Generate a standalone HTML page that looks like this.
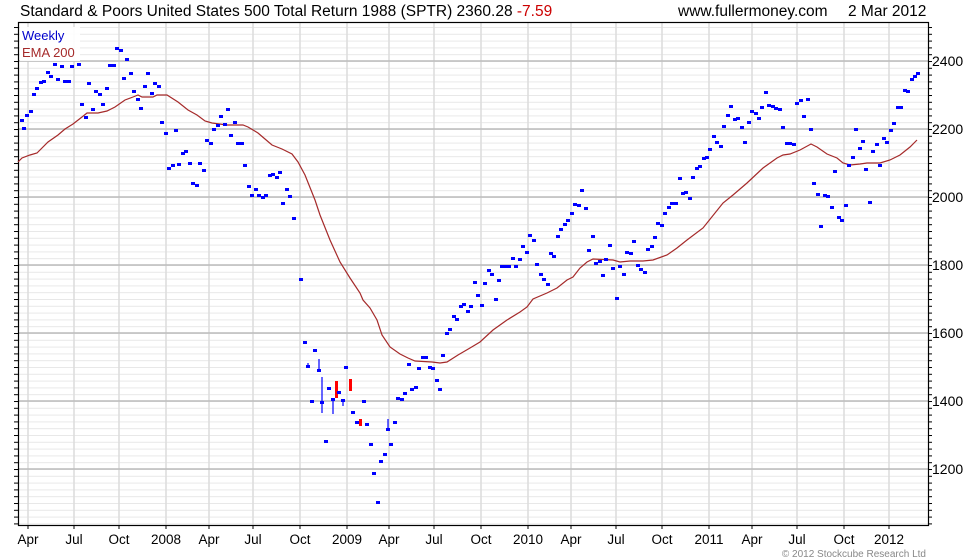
<!DOCTYPE html>
<html><head><meta charset="utf-8"><style>
html,body{margin:0;padding:0;background:#fff;}
svg{display:block;font-family:"Liberation Sans",sans-serif;}
</style></head><body>
<svg width="980" height="560" viewBox="0 0 980 560" xmlns="http://www.w3.org/2000/svg">
<defs>
<pattern id="mg" x="0" y="61" width="980" height="6.8" patternUnits="userSpaceOnUse"><line x1="0" y1="0.5" x2="980" y2="0.5" stroke="#e8e8e8" stroke-width="1"/></pattern>
<pattern id="tk" x="0" y="61" width="980" height="6.8" patternUnits="userSpaceOnUse"><line x1="14" y1="0.5" x2="18" y2="0.5" stroke="#000"/><line x1="928" y1="0.5" x2="932" y2="0.5" stroke="#000"/></pattern>
</defs>
<rect width="980" height="560" fill="#fff"/>
<rect x="18" y="22" width="910" height="503" fill="url(#mg)"/>
<rect x="0" y="22" width="980" height="503" fill="url(#tk)"/>
<g stroke="#dcdcdc" stroke-width="1.5">
<line x1="28" y1="22" x2="28" y2="525"/><line x1="74" y1="22" x2="74" y2="525"/><line x1="119" y1="22" x2="119" y2="525"/><line x1="166" y1="22" x2="166" y2="525"/><line x1="209" y1="22" x2="209" y2="525"/><line x1="253" y1="22" x2="253" y2="525"/><line x1="300" y1="22" x2="300" y2="525"/><line x1="347" y1="22" x2="347" y2="525"/><line x1="389" y1="22" x2="389" y2="525"/><line x1="434" y1="22" x2="434" y2="525"/><line x1="481" y1="22" x2="481" y2="525"/><line x1="528" y1="22" x2="528" y2="525"/><line x1="571" y1="22" x2="571" y2="525"/><line x1="616" y1="22" x2="616" y2="525"/><line x1="662" y1="22" x2="662" y2="525"/><line x1="709" y1="22" x2="709" y2="525"/><line x1="752" y1="22" x2="752" y2="525"/><line x1="797" y1="22" x2="797" y2="525"/><line x1="844" y1="22" x2="844" y2="525"/><line x1="889" y1="22" x2="889" y2="525"/>
</g>
<g stroke="#bcbcbc" stroke-width="1.5">
<line x1="18" y1="61" x2="928" y2="61"/><line x1="18" y1="129" x2="928" y2="129"/><line x1="18" y1="197" x2="928" y2="197"/><line x1="18" y1="265" x2="928" y2="265"/><line x1="18" y1="333" x2="928" y2="333"/><line x1="18" y1="401" x2="928" y2="401"/><line x1="18" y1="469" x2="928" y2="469"/>
</g>
<g stroke="#000" stroke-width="1">
<line x1="28" y1="525" x2="28" y2="529"/><line x1="74" y1="525" x2="74" y2="529"/><line x1="119" y1="525" x2="119" y2="529"/><line x1="166" y1="525" x2="166" y2="529"/><line x1="209" y1="525" x2="209" y2="529"/><line x1="253" y1="525" x2="253" y2="529"/><line x1="300" y1="525" x2="300" y2="529"/><line x1="347" y1="525" x2="347" y2="529"/><line x1="389" y1="525" x2="389" y2="529"/><line x1="434" y1="525" x2="434" y2="529"/><line x1="481" y1="525" x2="481" y2="529"/><line x1="528" y1="525" x2="528" y2="529"/><line x1="571" y1="525" x2="571" y2="529"/><line x1="616" y1="525" x2="616" y2="529"/><line x1="662" y1="525" x2="662" y2="529"/><line x1="709" y1="525" x2="709" y2="529"/><line x1="752" y1="525" x2="752" y2="529"/><line x1="797" y1="525" x2="797" y2="529"/><line x1="844" y1="525" x2="844" y2="529"/><line x1="889" y1="525" x2="889" y2="529"/>
</g>
<rect x="18.5" y="22.5" width="910" height="503" fill="none" stroke="#000" stroke-width="1.2"/>

<polyline fill="none" stroke="#a52a2a" stroke-width="1.2" points="18,162 22,158 30,155 37,153 48,142 58,135 65,129 73,124 82,117 87,113 98,113 107,111 115,107 125,100 133,97 138,95 142,97 153,97 157,95 167,95 178,102 188,110 197,115 205,121 212,123 227,125 243,125 248,127 258,133 265,139 272,145 282,149 292,154 298,162 305,175 315,200 320,215 330,240 340,262 350,278 360,293 363,300 370,308 377,320 382,335 390,347 400,354 408,358 415,361 432,362 440,363 447,362 458,355 470,348 480,342 493,330 507,320 520,312 527,307 533,299 547,293 557,288 567,280 573,277 580,268 587,262 593,259 613,260 620,262 630,261 643,261 653,260 667,255 677,248 687,240 703,228 723,203 733,195 747,183 763,168 777,158 783,155 790,154 800,150 811,144 817,147 827,154 837,158 843,163 850,165 860,164 867,163 880,163 890,160 900,155 910,147 917,140"/>

<g stroke="#0000ff" stroke-width="1.2">
<line x1="308" y1="363" x2="308" y2="366"/><line x1="319" y1="359" x2="319" y2="370"/><line x1="322" y1="377" x2="322" y2="413"/><line x1="333" y1="399" x2="333" y2="414"/><line x1="343" y1="400" x2="343" y2="406"/><line x1="388" y1="419" x2="388" y2="429"/>
</g>
<g fill="#ff0000"><rect x="335" y="381" width="3" height="17"/><rect x="349" y="379" width="3" height="12"/><rect x="359" y="419" width="3" height="7"/></g>

<g fill="#0000ff">
<rect x="20" y="119" width="4" height="3"/><rect x="22" y="127" width="4" height="3"/><rect x="25" y="114" width="4" height="3"/><rect x="29" y="110" width="4" height="3"/><rect x="32" y="93" width="4" height="3"/><rect x="35" y="87" width="4" height="3"/><rect x="39" y="81" width="4" height="3"/><rect x="42" y="80" width="4" height="3"/><rect x="46" y="71" width="4" height="3"/><rect x="49" y="75" width="4" height="3"/><rect x="53" y="63" width="4" height="3"/><rect x="56" y="78" width="4" height="3"/><rect x="60" y="65" width="4" height="3"/><rect x="63" y="80" width="4" height="3"/><rect x="67" y="80" width="4" height="3"/><rect x="70" y="65" width="4" height="3"/><rect x="77" y="63" width="4" height="3"/><rect x="80" y="103" width="4" height="3"/><rect x="84" y="116" width="4" height="3"/><rect x="87" y="82" width="4" height="3"/><rect x="91" y="108" width="4" height="3"/><rect x="94" y="90" width="4" height="3"/><rect x="98" y="93" width="4" height="3"/><rect x="101" y="103" width="4" height="3"/><rect x="105" y="87" width="4" height="3"/><rect x="108" y="64" width="4" height="3"/><rect x="112" y="64" width="4" height="3"/><rect x="115" y="47" width="4" height="3"/><rect x="119" y="49" width="4" height="3"/><rect x="122" y="77" width="4" height="3"/><rect x="125" y="58" width="4" height="3"/><rect x="129" y="72" width="4" height="3"/><rect x="132" y="90" width="4" height="3"/><rect x="136" y="98" width="4" height="3"/><rect x="139" y="107" width="4" height="3"/><rect x="143" y="85" width="4" height="3"/><rect x="146" y="72" width="4" height="3"/><rect x="150" y="92" width="4" height="3"/><rect x="153" y="82" width="4" height="3"/><rect x="157" y="85" width="4" height="3"/><rect x="160" y="121" width="4" height="3"/><rect x="164" y="132" width="4" height="3"/><rect x="167" y="167" width="4" height="3"/><rect x="171" y="164" width="4" height="3"/><rect x="174" y="129" width="4" height="3"/><rect x="177" y="163" width="4" height="3"/><rect x="181" y="152" width="4" height="3"/><rect x="184" y="150" width="4" height="3"/><rect x="188" y="162" width="4" height="3"/><rect x="191" y="182" width="4" height="3"/><rect x="195" y="184" width="4" height="3"/><rect x="198" y="162" width="4" height="3"/><rect x="202" y="169" width="4" height="3"/><rect x="205" y="139" width="4" height="3"/><rect x="209" y="142" width="4" height="3"/><rect x="212" y="128" width="4" height="3"/><rect x="216" y="124" width="4" height="3"/><rect x="219" y="115" width="4" height="3"/><rect x="223" y="123" width="4" height="3"/><rect x="226" y="108" width="4" height="3"/><rect x="229" y="134" width="4" height="3"/><rect x="233" y="121" width="4" height="3"/><rect x="236" y="142" width="4" height="3"/><rect x="240" y="142" width="4" height="3"/><rect x="243" y="164" width="4" height="3"/><rect x="247" y="185" width="4" height="3"/><rect x="250" y="194" width="4" height="3"/><rect x="254" y="188" width="4" height="3"/><rect x="257" y="194" width="4" height="3"/><rect x="261" y="196" width="4" height="3"/><rect x="264" y="194" width="4" height="3"/><rect x="268" y="174" width="4" height="3"/><rect x="271" y="173" width="4" height="3"/><rect x="275" y="176" width="4" height="3"/><rect x="278" y="171" width="4" height="3"/><rect x="281" y="202" width="4" height="3"/><rect x="285" y="188" width="4" height="3"/><rect x="288" y="195" width="4" height="3"/><rect x="292" y="217" width="4" height="3"/><rect x="299" y="278" width="4" height="3"/><rect x="303" y="341" width="4" height="3"/><rect x="306" y="365" width="4" height="3"/><rect x="310" y="400" width="4" height="3"/><rect x="313" y="349" width="4" height="3"/><rect x="317" y="369" width="4" height="3"/><rect x="320" y="401" width="4" height="3"/><rect x="324" y="440" width="4" height="3"/><rect x="327" y="387" width="4" height="3"/><rect x="331" y="398" width="4" height="3"/><rect x="337" y="391" width="4" height="3"/><rect x="341" y="399" width="4" height="3"/><rect x="344" y="366" width="4" height="3"/><rect x="351" y="411" width="4" height="3"/><rect x="355" y="421" width="4" height="3"/><rect x="362" y="400" width="4" height="3"/><rect x="365" y="423" width="4" height="3"/><rect x="369" y="443" width="4" height="3"/><rect x="372" y="472" width="4" height="3"/><rect x="376" y="501" width="4" height="3"/><rect x="379" y="460" width="4" height="3"/><rect x="383" y="453" width="4" height="3"/><rect x="386" y="428" width="4" height="3"/><rect x="389" y="443" width="4" height="3"/><rect x="393" y="421" width="4" height="3"/><rect x="396" y="397" width="4" height="3"/><rect x="400" y="398" width="4" height="3"/><rect x="403" y="392" width="4" height="3"/><rect x="407" y="363" width="4" height="3"/><rect x="410" y="388" width="4" height="3"/><rect x="414" y="386" width="4" height="3"/><rect x="417" y="367" width="4" height="3"/><rect x="421" y="356" width="4" height="3"/><rect x="424" y="356" width="4" height="3"/><rect x="428" y="366" width="4" height="3"/><rect x="431" y="367" width="4" height="3"/><rect x="435" y="379" width="4" height="3"/><rect x="438" y="388" width="4" height="3"/><rect x="441" y="354" width="4" height="3"/><rect x="445" y="332" width="4" height="3"/><rect x="448" y="328" width="4" height="3"/><rect x="452" y="315" width="4" height="3"/><rect x="455" y="318" width="4" height="3"/><rect x="459" y="305" width="4" height="3"/><rect x="462" y="303" width="4" height="3"/><rect x="466" y="310" width="4" height="3"/><rect x="469" y="305" width="4" height="3"/><rect x="473" y="281" width="4" height="3"/><rect x="476" y="294" width="4" height="3"/><rect x="480" y="304" width="4" height="3"/><rect x="483" y="282" width="4" height="3"/><rect x="487" y="269" width="4" height="3"/><rect x="490" y="273" width="4" height="3"/><rect x="494" y="298" width="4" height="3"/><rect x="497" y="279" width="4" height="3"/><rect x="500" y="265" width="4" height="3"/><rect x="504" y="265" width="4" height="3"/><rect x="507" y="265" width="4" height="3"/><rect x="511" y="257" width="4" height="3"/><rect x="514" y="265" width="4" height="3"/><rect x="518" y="258" width="4" height="3"/><rect x="521" y="245" width="4" height="3"/><rect x="525" y="251" width="4" height="3"/><rect x="528" y="234" width="4" height="3"/><rect x="532" y="239" width="4" height="3"/><rect x="535" y="263" width="4" height="3"/><rect x="539" y="273" width="4" height="3"/><rect x="542" y="278" width="4" height="3"/><rect x="546" y="283" width="4" height="3"/><rect x="549" y="252" width="4" height="3"/><rect x="552" y="255" width="4" height="3"/><rect x="556" y="235" width="4" height="3"/><rect x="559" y="228" width="4" height="3"/><rect x="563" y="223" width="4" height="3"/><rect x="566" y="219" width="4" height="3"/><rect x="570" y="212" width="4" height="3"/><rect x="573" y="203" width="4" height="3"/><rect x="577" y="204" width="4" height="3"/><rect x="580" y="189" width="4" height="3"/><rect x="584" y="207" width="4" height="3"/><rect x="587" y="249" width="4" height="3"/><rect x="591" y="235" width="4" height="3"/><rect x="594" y="262" width="4" height="3"/><rect x="598" y="260" width="4" height="3"/><rect x="601" y="274" width="4" height="3"/><rect x="604" y="258" width="4" height="3"/><rect x="608" y="244" width="4" height="3"/><rect x="611" y="267" width="4" height="3"/><rect x="615" y="297" width="4" height="3"/><rect x="618" y="265" width="4" height="3"/><rect x="622" y="273" width="4" height="3"/><rect x="625" y="251" width="4" height="3"/><rect x="629" y="252" width="4" height="3"/><rect x="632" y="240" width="4" height="3"/><rect x="636" y="264" width="4" height="3"/><rect x="639" y="268" width="4" height="3"/><rect x="643" y="271" width="4" height="3"/><rect x="646" y="248" width="4" height="3"/><rect x="650" y="245" width="4" height="3"/><rect x="653" y="236" width="4" height="3"/><rect x="656" y="222" width="4" height="3"/><rect x="660" y="224" width="4" height="3"/><rect x="663" y="212" width="4" height="3"/><rect x="667" y="206" width="4" height="3"/><rect x="670" y="202" width="4" height="3"/><rect x="674" y="202" width="4" height="3"/><rect x="678" y="177" width="4" height="3"/><rect x="681" y="192" width="4" height="3"/><rect x="684" y="191" width="4" height="3"/><rect x="688" y="197" width="4" height="3"/><rect x="691" y="176" width="4" height="3"/><rect x="695" y="167" width="4" height="3"/><rect x="698" y="165" width="4" height="3"/><rect x="702" y="157" width="4" height="3"/><rect x="705" y="156" width="4" height="3"/><rect x="708" y="148" width="4" height="3"/><rect x="712" y="135" width="4" height="3"/><rect x="715" y="141" width="4" height="3"/><rect x="719" y="145" width="4" height="3"/><rect x="722" y="125" width="4" height="3"/><rect x="726" y="114" width="4" height="3"/><rect x="729" y="105" width="4" height="3"/><rect x="733" y="118" width="4" height="3"/><rect x="736" y="117" width="4" height="3"/><rect x="740" y="126" width="4" height="3"/><rect x="743" y="141" width="4" height="3"/><rect x="747" y="121" width="4" height="3"/><rect x="750" y="110" width="4" height="3"/><rect x="754" y="112" width="4" height="3"/><rect x="757" y="117" width="4" height="3"/><rect x="760" y="106" width="4" height="3"/><rect x="764" y="91" width="4" height="3"/><rect x="767" y="104" width="4" height="3"/><rect x="771" y="105" width="4" height="3"/><rect x="774" y="107" width="4" height="3"/><rect x="778" y="108" width="4" height="3"/><rect x="781" y="126" width="4" height="3"/><rect x="785" y="142" width="4" height="3"/><rect x="788" y="142" width="4" height="3"/><rect x="792" y="143" width="4" height="3"/><rect x="795" y="102" width="4" height="3"/><rect x="799" y="99" width="4" height="3"/><rect x="802" y="115" width="4" height="3"/><rect x="806" y="98" width="4" height="3"/><rect x="809" y="128" width="4" height="3"/><rect x="812" y="182" width="4" height="3"/><rect x="816" y="193" width="4" height="3"/><rect x="819" y="225" width="4" height="3"/><rect x="823" y="194" width="4" height="3"/><rect x="826" y="195" width="4" height="3"/><rect x="830" y="206" width="4" height="3"/><rect x="833" y="170" width="4" height="3"/><rect x="837" y="216" width="4" height="3"/><rect x="840" y="219" width="4" height="3"/><rect x="844" y="204" width="4" height="3"/><rect x="847" y="164" width="4" height="3"/><rect x="851" y="156" width="4" height="3"/><rect x="854" y="128" width="4" height="3"/><rect x="858" y="147" width="4" height="3"/><rect x="861" y="140" width="4" height="3"/><rect x="864" y="168" width="4" height="3"/><rect x="868" y="201" width="4" height="3"/><rect x="871" y="150" width="4" height="3"/><rect x="875" y="143" width="4" height="3"/><rect x="878" y="164" width="4" height="3"/><rect x="882" y="137" width="4" height="3"/><rect x="885" y="141" width="4" height="3"/><rect x="889" y="129" width="4" height="3"/><rect x="892" y="122" width="4" height="3"/><rect x="896" y="106" width="4" height="3"/><rect x="899" y="106" width="4" height="3"/><rect x="903" y="89" width="4" height="3"/><rect x="906" y="90" width="4" height="3"/><rect x="910" y="78" width="4" height="3"/><rect x="913" y="75" width="4" height="3"/><rect x="916" y="72" width="4" height="3"/>
</g>

<rect x="20" y="27" width="60" height="34" fill="#fff" opacity="0.9"/>
<text x="22" y="40" font-size="13" fill="#0000cc">Weekly</text>
<text x="22" y="57" font-size="13" fill="#a52a2a">EMA 200</text>

<text x="20" y="16" font-size="15.5" fill="#000">Standard &amp; Poors United States 500 Total Return 1988 (SPTR) 2360.28 <tspan fill="#cc0000">-7.59</tspan></text>
<text x="678" y="16" font-size="15.5" fill="#000">www.fullermoney.com</text>
<text x="848" y="16" font-size="15.5" fill="#000">2 Mar 2012</text>

<g font-size="14" fill="#000">
<text x="932" y="66">2400</text><text x="932" y="134">2200</text><text x="932" y="202">2000</text><text x="932" y="270">1800</text><text x="932" y="338">1600</text><text x="932" y="406">1400</text><text x="932" y="474">1200</text>
</g>
<g font-size="13.5" fill="#000" text-anchor="middle">
<text x="28" y="544">Apr</text><text x="74" y="544">Jul</text><text x="119" y="544">Oct</text><text x="166" y="544">2008</text><text x="209" y="544">Apr</text><text x="253" y="544">Jul</text><text x="300" y="544">Oct</text><text x="347" y="544">2009</text><text x="389" y="544">Apr</text><text x="434" y="544">Jul</text><text x="481" y="544">Oct</text><text x="528" y="544">2010</text><text x="571" y="544">Apr</text><text x="616" y="544">Jul</text><text x="662" y="544">Oct</text><text x="709" y="544">2011</text><text x="752" y="544">Apr</text><text x="797" y="544">Jul</text><text x="844" y="544">Oct</text><text x="889" y="544">2012</text>
</g>
<text x="926" y="557" font-size="10" fill="#888" text-anchor="end">© 2012 Stockcube Research Ltd</text>
</svg>
</body></html>
